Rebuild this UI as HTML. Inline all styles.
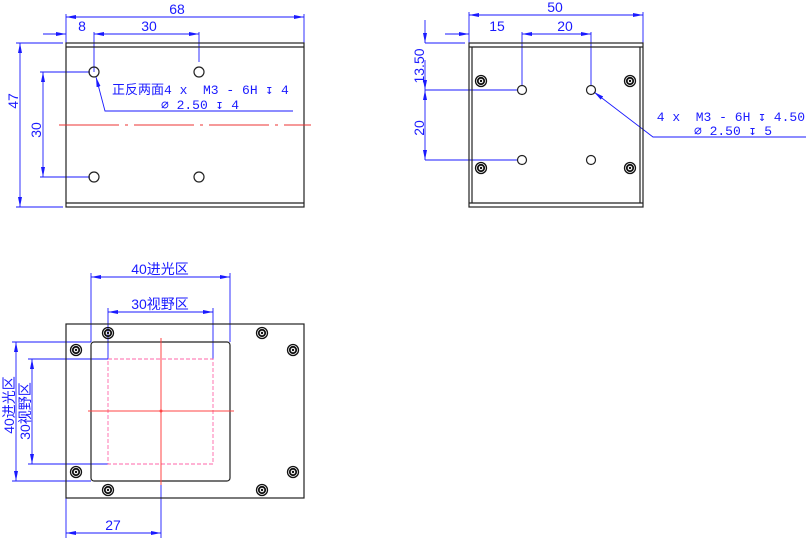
<!DOCTYPE html>
<html><head><meta charset="utf-8"><style>
html,body{margin:0;padding:0;background:#fff}
svg{display:block}
text{font-family:"Liberation Sans","Noto Sans CJK SC",sans-serif;fill:#1a1aff;font-size:14px}
.m{font-family:"Liberation Mono","DejaVu Sans Mono","Noto Sans CJK SC",monospace;font-size:13px;white-space:pre}
</style></head><body>
<svg width="806" height="538" viewBox="0 0 806 538" xmlns="http://www.w3.org/2000/svg">
<defs>
<marker id="a" viewBox="0 0 10 4" refX="10" refY="2" markerWidth="10" markerHeight="4" orient="auto-start-reverse" markerUnits="userSpaceOnUse"><path d="M0,0L10,2L0,4z" fill="#1a1aff"/></marker>
<g id="s"><circle r="5.5" fill="none" stroke="#111" stroke-width="1.3"/><circle r="3.2" fill="none" stroke="#111" stroke-width="1.8"/><circle r="1.2" fill="#111"/></g>
</defs>
<g stroke="#1a1aff" stroke-width="0.9" fill="none">
<line x1="66" y1="14" x2="66" y2="43"/><line x1="304" y1="14" x2="304" y2="43"/>
<line x1="66" y1="17" x2="304" y2="17" marker-start="url(#a)" marker-end="url(#a)"/>
<line x1="43" y1="34" x2="66" y2="34" marker-end="url(#a)"/>
<line x1="94" y1="34" x2="199" y2="34" marker-start="url(#a)" marker-end="url(#a)"/>
<line x1="94" y1="32" x2="94" y2="72"/><line x1="199" y1="32" x2="199" y2="62"/>
<line x1="16" y1="43" x2="63" y2="43"/><line x1="16" y1="207" x2="63" y2="207"/>
<line x1="20" y1="43" x2="20" y2="207" marker-start="url(#a)" marker-end="url(#a)"/>
<line x1="40" y1="72" x2="90" y2="72"/><line x1="40" y1="177" x2="90" y2="177"/>
<line x1="43" y1="72" x2="43" y2="177" marker-start="url(#a)" marker-end="url(#a)"/>
<polyline points="293,111 105,111 96,77" marker-end="url(#a)"/>
<line x1="469" y1="12" x2="469" y2="43"/><line x1="643" y1="12" x2="643" y2="43"/>
<line x1="469" y1="15" x2="643" y2="15" marker-start="url(#a)" marker-end="url(#a)"/>
<line x1="445" y1="34" x2="469" y2="34" marker-end="url(#a)"/>
<line x1="522" y1="34" x2="591" y2="34" marker-start="url(#a)" marker-end="url(#a)"/>
<line x1="522" y1="32" x2="522" y2="86"/><line x1="591" y1="32" x2="591" y2="86"/>
<line x1="425" y1="20" x2="425" y2="43" marker-end="url(#a)"/>
<line x1="425" y1="43" x2="465" y2="43"/>
<line x1="425" y1="90" x2="518" y2="90"/><line x1="425" y1="160" x2="518" y2="160"/>
<line x1="425" y1="90" x2="425" y2="160" marker-start="url(#a)" marker-end="url(#a)"/>
<line x1="425" y1="60" x2="425" y2="90" marker-end="url(#a)"/>
<polyline points="806,137 653,137 594,92" marker-end="url(#a)"/>
<line x1="91" y1="273" x2="91" y2="342"/><line x1="230" y1="273" x2="230" y2="342"/>
<line x1="91" y1="277" x2="230" y2="277" marker-start="url(#a)" marker-end="url(#a)"/>
<line x1="108" y1="308" x2="108" y2="359"/><line x1="213" y1="308" x2="213" y2="359"/>
<line x1="108" y1="312" x2="213" y2="312" marker-start="url(#a)" marker-end="url(#a)"/>
<line x1="12" y1="342" x2="91" y2="342"/><line x1="12" y1="481" x2="91" y2="481"/>
<line x1="16" y1="342" x2="16" y2="481" marker-start="url(#a)" marker-end="url(#a)"/>
<line x1="28" y1="359" x2="108" y2="359"/><line x1="28" y1="464" x2="108" y2="464"/>
<line x1="32" y1="359" x2="32" y2="464" marker-start="url(#a)" marker-end="url(#a)"/>
<line x1="66" y1="498" x2="66" y2="538"/><line x1="161" y1="485" x2="161" y2="538"/>
<line x1="66" y1="533" x2="161" y2="533" marker-start="url(#a)" marker-end="url(#a)"/>
</g>
<g stroke="#222" fill="none" stroke-width="1.2">
<rect x="66" y="43" width="238" height="164"/>
<line x1="66" y1="47" x2="304" y2="47"/><line x1="66" y1="203" x2="304" y2="203"/>
<circle cx="94" cy="72" r="5"/><circle cx="199" cy="72" r="5"/><circle cx="94" cy="177" r="5"/><circle cx="199" cy="177" r="5"/>
<rect x="469" y="43" width="174" height="164"/>
<line x1="472" y1="47" x2="472" y2="203"/><line x1="640" y1="47" x2="640" y2="203"/>
<line x1="469" y1="47" x2="643" y2="47"/><line x1="469" y1="203" x2="643" y2="203"/>
<circle cx="522" cy="90" r="4.5"/><circle cx="591" cy="90" r="4.5"/><circle cx="522" cy="160" r="4.5"/><circle cx="591" cy="160" r="4.5"/>
<rect x="66" y="324" width="238" height="174"/>
<rect x="91" y="342" width="139" height="139" rx="3"/>
</g>
<line x1="59" y1="125" x2="311" y2="125" stroke="#e33" stroke-width="0.9" stroke-dasharray="60,6,3,6"/>
<use href="#s" x="481" y="81"/><use href="#s" x="630" y="81"/><use href="#s" x="481" y="168"/><use href="#s" x="630" y="168"/>
<use href="#s" x="108" y="333"/><use href="#s" x="262" y="333"/><use href="#s" x="76" y="350"/><use href="#s" x="293" y="350"/>
<use href="#s" x="76" y="472"/><use href="#s" x="293" y="472"/><use href="#s" x="108" y="490"/><use href="#s" x="262" y="490"/>
<rect x="108" y="359" width="105" height="105" fill="none" stroke="#f6a" stroke-width="0.9" stroke-dasharray="4,2"/>
<g stroke="#f44" stroke-width="1"><line x1="161" y1="338" x2="161" y2="485"/><line x1="88" y1="411" x2="234" y2="411"/></g>
<circle cx="161" cy="411" r="1.5" fill="#f44"/>
<text x="177" y="14" text-anchor="middle">68</text>
<text x="82" y="31" text-anchor="middle">8</text>
<text x="149" y="31" text-anchor="middle">30</text>
<text transform="translate(18,101) rotate(-90)" text-anchor="middle">47</text>
<text transform="translate(41,130) rotate(-90)" text-anchor="middle">30</text>
<text class="m" x="112" y="94" xml:space="preserve">正反两面4 x  M3 - 6H ↧ 4</text>
<text class="m" x="200" y="109" text-anchor="middle" xml:space="preserve">∅ 2.50 ↧ 4</text>
<text x="555" y="12" text-anchor="middle">50</text>
<text x="497" y="31" text-anchor="middle">15</text>
<text x="565" y="31" text-anchor="middle">20</text>
<text transform="translate(424,66) rotate(-90)" text-anchor="middle">13.50</text>
<text transform="translate(424,128) rotate(-90)" text-anchor="middle">20</text>
<text class="m" x="805" y="121" text-anchor="end" xml:space="preserve">4 x  M3 - 6H ↧ 4.50</text>
<text class="m" x="733" y="135" text-anchor="middle" xml:space="preserve">∅ 2.50 ↧ 5</text>
<text x="160" y="274" text-anchor="middle">40进光区</text>
<text x="160" y="309" text-anchor="middle">30视野区</text>
<text transform="translate(14,405) rotate(-90)" text-anchor="middle">40进光区</text>
<text transform="translate(30,411) rotate(-90)" text-anchor="middle">30视野区</text>
<text x="113" y="530" text-anchor="middle">27</text>
</svg>
</body></html>
